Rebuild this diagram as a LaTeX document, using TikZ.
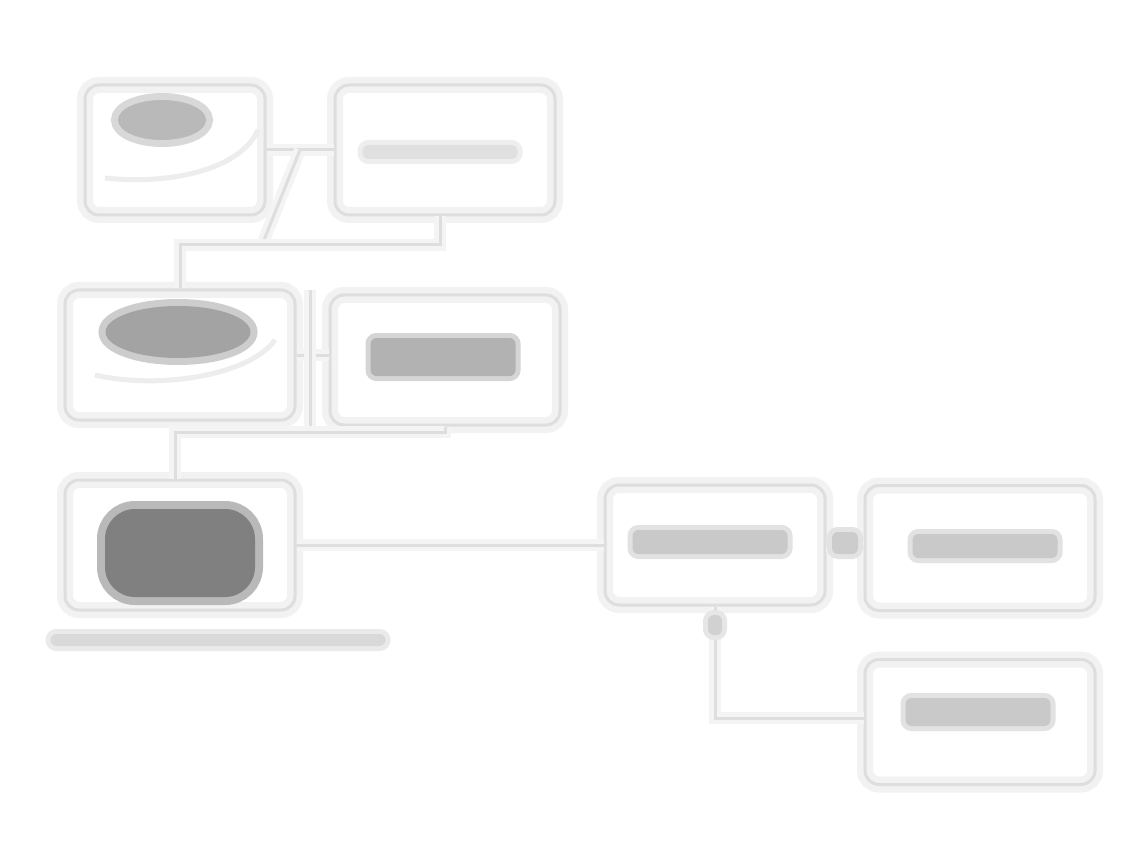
\documentclass[tikz,border=0pt]{standalone}
\usetikzlibrary{calc,shapes.geometric}
\begin{document}
\begin{tikzpicture}[x=1pt,y=-1pt,
  box/.style={rectangle,rounded corners=14pt,draw=gray!26,line width=3pt,
    preaction={draw=gray!10,line width=16pt},inner sep=0pt},
  wire/.style={draw=gray!26,line width=3pt,preaction={draw=gray!9,line width=12pt}},
  blob/.style={ellipse,inner sep=0pt,fill=gray!#1,
    preaction={draw=gray!#1!white!55,line width=14pt}},
  tblob/.style={rectangle,rounded corners=6pt,inner sep=0pt,fill=gray!#1,
    preaction={draw=gray!#1!white!55,line width=10pt}},
  rblob/.style={rectangle,rounded corners=30pt,inner sep=0pt,fill=gray!#1,
    preaction={draw=gray!#1!white!55,line width=16pt}}
]
\useasboundingbox (0,0) rectangle (1134,858);
\fill[white] (0,0) rectangle (1134,858);

% boxes
\node[box,minimum width=180pt,minimum height=130pt] (A) at (175,150) {};
\node[box,minimum width=220pt,minimum height=130pt] (B) at (445,150) {};
\node[box,minimum width=230pt,minimum height=130pt] (C) at (180,355) {};
\node[box,minimum width=230pt,minimum height=130pt] (D) at (445,360) {};
\node[box,minimum width=230pt,minimum height=130pt] (E) at (180,545) {};
\node[box,minimum width=220pt,minimum height=120pt] (F) at (715,545) {};
\node[box,minimum width=230pt,minimum height=125pt] (G) at (980,548) {};
\node[box,minimum width=230pt,minimum height=125pt] (H) at (980,722) {};

% contents (illegible pictures and text blobs)
\node[blob=55,minimum width=88pt,minimum height=40pt] (Ai) at (162,120) {};
\draw[draw=gray!14,line width=5pt] (105,178) .. controls (170,185) and (240,170) .. (258,130);
\node[tblob=24,minimum width=155pt,minimum height=14pt] (Bt) at (440,152) {};
\node[blob=72,minimum width=145pt,minimum height=52pt] (Ci) at (178,332) {};
\draw[draw=gray!14,line width=5pt] (95,375) .. controls (160,390) and (250,375) .. (275,340);
\node[tblob=60,minimum width=145pt,minimum height=38pt] (Dt) at (443,357) {};
\node[rblob=100,minimum width=150pt,minimum height=88pt] (Ei) at (180,553) {};
\node[tblob=30,minimum width=335pt,minimum height=12pt] (El) at (218,640) {};
\node[tblob=42,minimum width=155pt,minimum height=24pt] (Ft) at (710,542) {};
\node[tblob=42,minimum width=145pt,minimum height=24pt] (Gt) at (985,546) {};
\node[tblob=42,minimum width=145pt,minimum height=28pt] (Ht) at (978,712) {};

% junction coordinates
\coordinate (j1) at (300,150);
\coordinate (b1) at (440,245);
\coordinate (b2) at (180,245);
\coordinate (b3) at (262,245);
\coordinate (c1) at (445,432);
\coordinate (c2) at (175,432);
\coordinate (v1) at (310,290);
\coordinate (v2) at (310,432);
\coordinate (f1) at (715,718);

% connectors
\draw[wire] (A.east) -- (B.west);
\draw[wire] (j1) -- (b3);
\draw[wire] (B.south -| b1) -- (b1) -- (b2) -- (C.north -| b2);
\draw[wire] (C.east) -- (C.east -| D.west);
\draw[wire] (v1) -- (v2);
\draw[wire] (D.south -| c1) -- (c1) -- (c2) -- (E.north -| c2);
\draw[wire] (E.east) -- (F.west);
\draw[wire] (F.east) -- (G.west);
\node[tblob=40,minimum width=26pt,minimum height=22pt] (FG) at (845,543) {};
\draw[wire] (F.south) -- (f1) -- (H.west |- f1);
\node[tblob=36,minimum width=14pt,minimum height=20pt] (Fs) at (715,625) {};
\end{tikzpicture}
\end{document}
